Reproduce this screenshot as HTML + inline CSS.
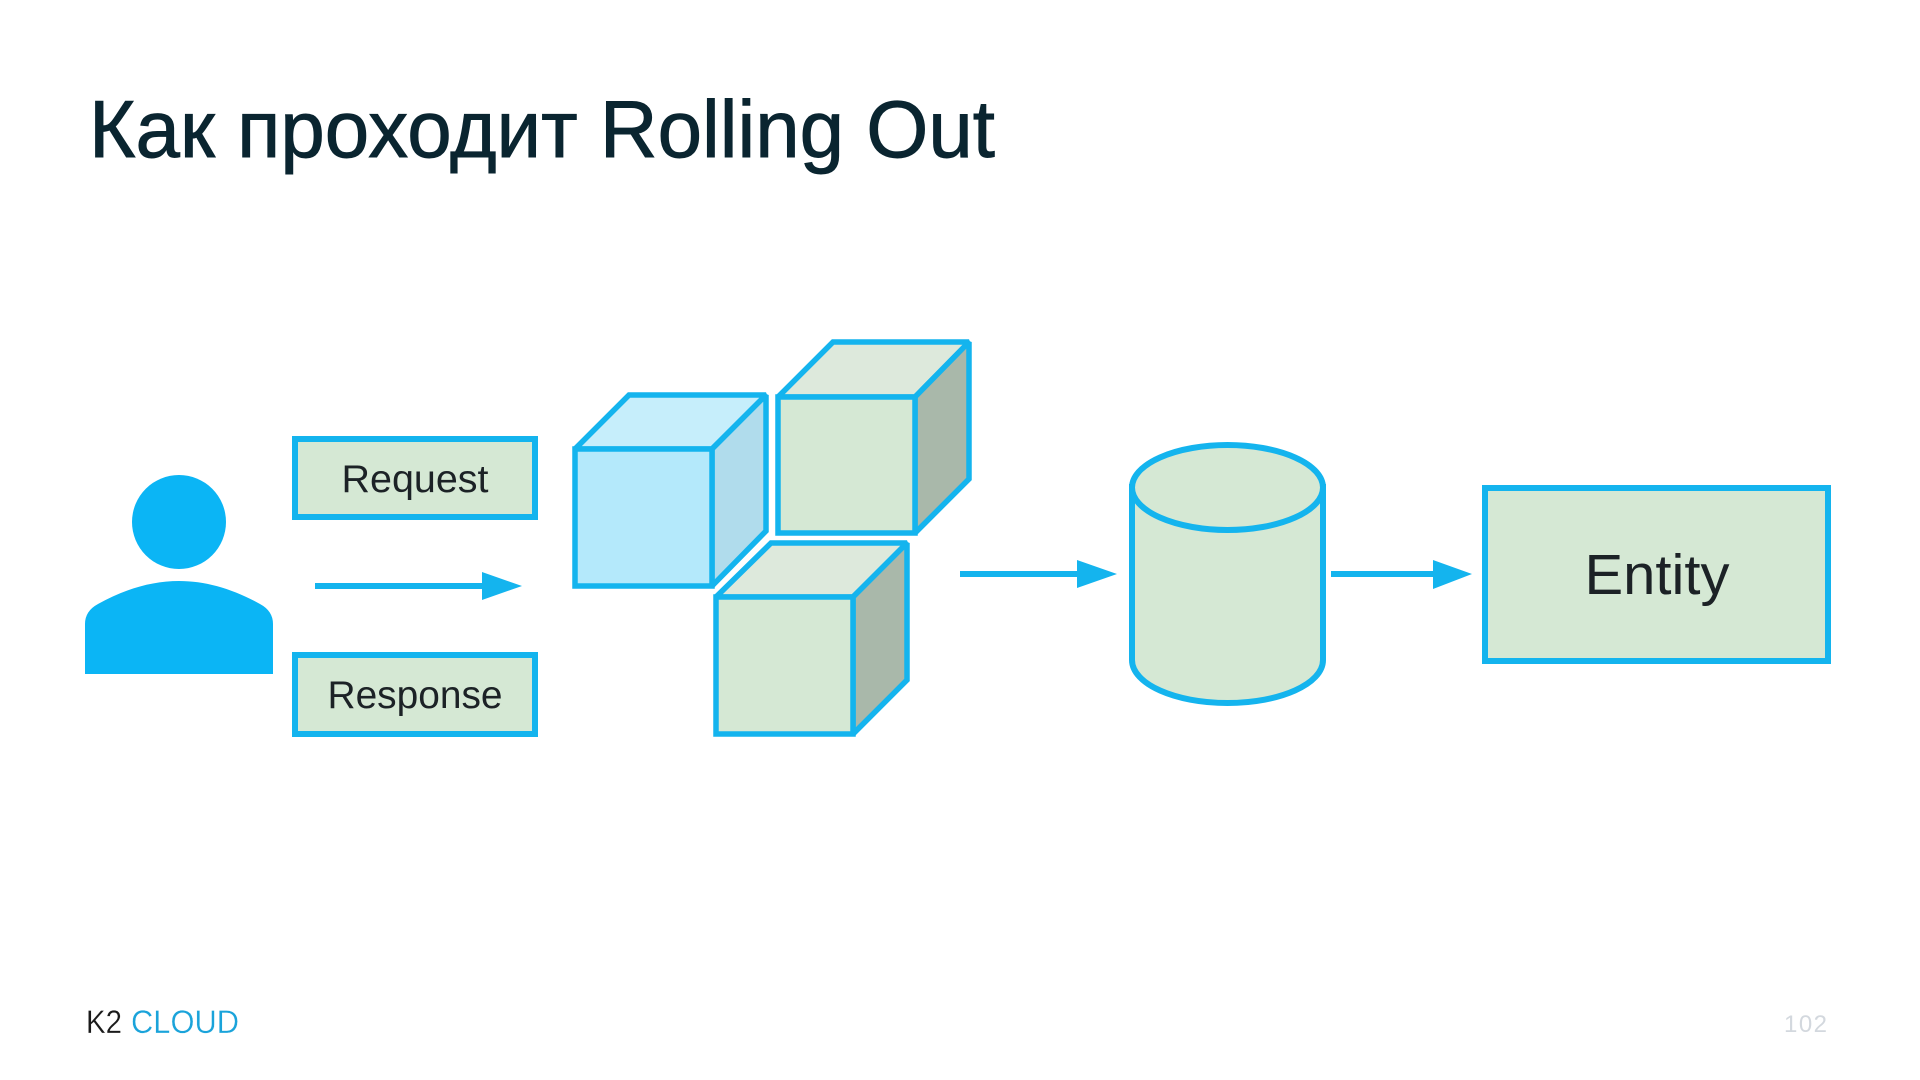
<!DOCTYPE html>
<html lang="ru">
<head>
<meta charset="utf-8">
<title>Как проходит Rolling Out</title>
<style>
html,body{margin:0;padding:0;background:#fff;width:1920px;height:1080px;overflow:hidden}
svg{display:block}
text{font-family:"Liberation Sans",sans-serif}
</style>
</head>
<body>
<svg width="1920" height="1080" viewBox="0 0 1920 1080" xmlns="http://www.w3.org/2000/svg">
<rect width="1920" height="1080" fill="#fff"/>
<text x="89" y="157" font-size="81" fill="#0a2530" stroke="#0a2530" stroke-width="0.9" textLength="906" lengthAdjust="spacingAndGlyphs">Как проходит Rolling Out</text>

<!-- person -->
<circle cx="179" cy="522" r="47" fill="#0bb5f5"/>
<path d="M85 674V624Q85 611 98 604C125 589 152 581 179 581C206 581 233 589 260 604Q273 611 273 624V674Z" fill="#0bb5f5"/>

<!-- labels -->
<rect x="295" y="439" width="240" height="78" fill="#d5e8d4" stroke="#14b4ee" stroke-width="6"/>
<text x="415" y="492" font-size="39" fill="#1c2226" text-anchor="middle" textLength="147" lengthAdjust="spacingAndGlyphs">Request</text>
<rect x="295" y="655" width="240" height="79" fill="#d5e8d4" stroke="#14b4ee" stroke-width="6"/>
<text x="415" y="708" font-size="39" fill="#1c2226" text-anchor="middle" textLength="175" lengthAdjust="spacingAndGlyphs">Response</text>

<!-- arrow 1 -->
<rect x="315" y="583" width="170" height="6" fill="#14b4ee"/>
<polygon points="482,572 522,586 482,600" fill="#14b4ee"/>

<!-- cubes -->
<g stroke="#14b4ee" stroke-width="5.500" stroke-linejoin="miter" stroke-miterlimit="2">
  <polygon points="575,449 629,395 766,395 712,449" fill="#c6eefb"/>
  <polygon points="712,449 766,395 766,531 712,586" fill="#b0dcec"/>
  <rect x="575" y="449" width="137" height="137" fill="#b4e9fb"/>

  <polygon points="778,397 833,342 969,342 915,397" fill="#dde9dc"/>
  <polygon points="915,397 969,342 969,479 915,533" fill="#a9b8aa"/>
  <rect x="778" y="397" width="137" height="136" fill="#d5e8d4"/>

  <polygon points="716,597 771,543 907,543 853,597" fill="#dde9dc"/>
  <polygon points="853,597 907,543 907,680 853,734" fill="#a9b8aa"/>
  <rect x="716" y="597" width="137" height="137" fill="#d5e8d4"/>
</g>

<!-- arrow 2 -->
<rect x="960" y="571" width="120" height="6" fill="#14b4ee"/>
<polygon points="1077,560 1117,574 1077,588" fill="#14b4ee"/>

<!-- cylinder -->
<path d="M1132 487V660C1132 684 1175 703 1227.500 703C1280 703 1323 684 1323 660V487Z" fill="#d5e8d4" stroke="#14b4ee" stroke-width="6"/>
<ellipse cx="1227.500" cy="487.500" rx="95.500" ry="42.500" fill="#d5e8d4" stroke="#14b4ee" stroke-width="6"/>

<!-- arrow 3 -->
<rect x="1331" y="571" width="105" height="6" fill="#14b4ee"/>
<polygon points="1433,560 1472,574 1433,589" fill="#14b4ee"/>

<!-- entity -->
<rect x="1485" y="488" width="343" height="173" fill="#d5e8d4" stroke="#14b4ee" stroke-width="6"/>
<text x="1657" y="594" font-size="57" fill="#1c2226" text-anchor="middle" textLength="145" lengthAdjust="spacingAndGlyphs">Entity</text>

<!-- footer -->
<text x="86" y="1033" font-size="32" fill="#1a1a1a" stroke="#fff" stroke-width="0.3" textLength="36" lengthAdjust="spacingAndGlyphs">K2</text>
<text x="131" y="1033" font-size="32" fill="#1aa3da" stroke="#fff" stroke-width="0.3" textLength="108" lengthAdjust="spacingAndGlyphs">CLOUD</text>
<text x="1784" y="1032" font-size="24" fill="#d3d8de" textLength="43">102</text>
</svg>
</body>
</html>
